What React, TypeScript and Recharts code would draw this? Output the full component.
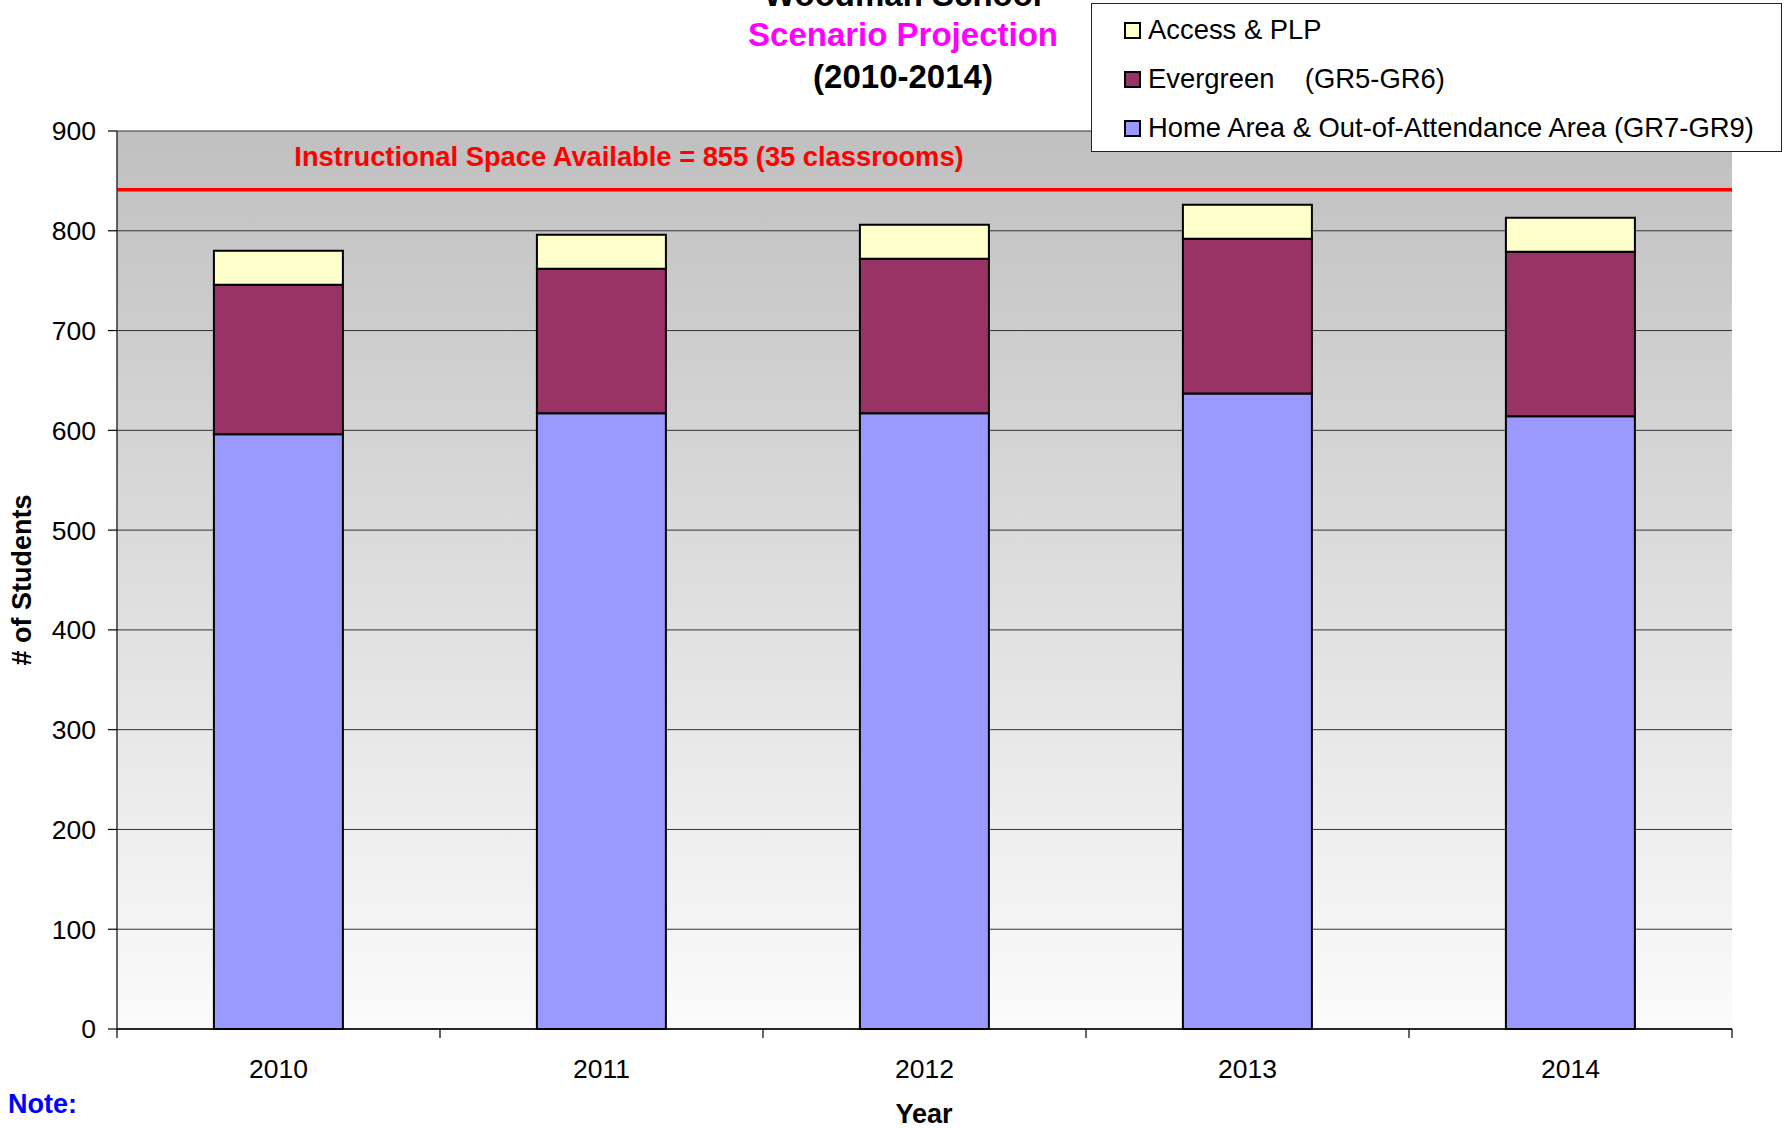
import React from 'react';
import { BarChart, Bar, XAxis, YAxis, CartesianGrid, ReferenceLine } from 'recharts';

const years = ['2010', '2011', '2012', '2013', '2014'];
const homeArea = [596, 617, 617, 637, 614];
const evergreen = [150, 145, 155, 155, 165];
const access = [34, 34, 34, 34, 34];
const yTicks = [0, 100, 200, 300, 400, 500, 600, 700, 800, 900];
const capacityLineValue = 841;
const capacityText = 'Instructional Space Available = 855 (35 classrooms)';

const seriesDefs = [
  { key: 'access', name: 'Access & PLP', color: '#ffffcc' },
  { key: 'evergreen', name: 'Evergreen    (GR5-GR6)', color: '#993366' },
  { key: 'home', name: 'Home Area & Out-of-Attendance Area (GR7-GR9)', color: '#9999ff' },
];

const data = years.map((y, i) => ({ year: y, home: homeArea[i], evergreen: evergreen[i], access: access[i] }));

const FONT = '"Liberation Sans", Arial, sans-serif';

const XTick = (props: any) => {
  const { x, y, payload, index, visibleTicksCount, width } = props;
  const half = payload && payload.offset ? payload.offset : width / visibleTicksCount / 2;
  const axisY = y - 30;
  return (
    <g>
      <line x1={x - half} x2={x - half} y1={axisY} y2={axisY + 9} stroke="#000" strokeWidth={1.2} />
      {index === visibleTicksCount - 1 && (
        <line x1={x + half} x2={x + half} y1={axisY} y2={axisY + 9} stroke="#000" strokeWidth={1.2} />
      )}
      <text x={x} y={y} dy="0.71em" textAnchor="middle" fill="#000" fontSize={26.5} fontFamily={FONT}>
        {payload.value}
      </text>
    </g>
  );
};

export default function App() {
  return (
    <div style={{ position: 'absolute', left: 0, top: 0, width: 1788, height: 1128, background: '#fff', fontFamily: FONT }}>
      <BarChart
        width={1788}
        height={1128}
        data={data}
        margin={{ top: 131, right: 56, bottom: 0, left: 0 }}
        barCategoryGap="30%"
      >
        <defs>
          <linearGradient id="plotBg" x1="0" y1="0" x2="0" y2="1">
            <stop offset="0%" stopColor="#c0c0c0" />
            <stop offset="100%" stopColor="#fbfbfb" />
          </linearGradient>
        </defs>
        <CartesianGrid vertical={false} stroke="#333" strokeWidth={1} fill="url(#plotBg)" fillOpacity={1} />
        <XAxis
          dataKey="year"
          height={99}
          tickSize={9}
          tickMargin={21}
          tickLine={false}
          axisLine={{ stroke: '#000', strokeWidth: 1.5 }}
          tick={<XTick />}
          interval={0}
        />
        <XAxis xAxisId="top" orientation="top" dataKey="year" height={0} tick={false} tickLine={false} axisLine={{ stroke: '#888', strokeWidth: 2.5 }} />
        <YAxis
          width={117}
          domain={[0, 900]}
          ticks={yTicks}
          tickSize={9}
          tickMargin={12}
          tick={{ fill: '#000', fontSize: 26.5, fontFamily: FONT }}
          tickLine={{ stroke: '#000', strokeWidth: 1.2 }}
          axisLine={{ stroke: '#333', strokeWidth: 1.5 }}
          interval={0}
        />
        <YAxis yAxisId="right" orientation="right" width={0} domain={[0, 900]} tick={false} tickLine={false} axisLine={{ stroke: '#888', strokeWidth: 2 }} />
        <Bar dataKey="home" stackId="s" fill="#9999ff" stroke="#000" strokeWidth={2} isAnimationActive={false} />
        <Bar dataKey="evergreen" stackId="s" fill="#993366" stroke="#000" strokeWidth={2} isAnimationActive={false} />
        <Bar dataKey="access" stackId="s" fill="#ffffcc" stroke="#000" strokeWidth={2} isAnimationActive={false} />
        <ReferenceLine y={capacityLineValue} stroke="#ff0000" strokeWidth={3.5} />
      </BarChart>

      <svg
        width={1788}
        height={1128}
        style={{ position: 'absolute', left: 0, top: 0, pointerEvents: 'none' }}
      >
        <g fontFamily={FONT} fontWeight="bold" textAnchor="middle">
          <text x={903} y={6} fontSize={33} fill="#000">Woodman School</text>
          <text x={903} y={46} fontSize={33} fill="#ff00ff">Scenario Projection</text>
          <text x={903} y={88} fontSize={33} fill="#000">(2010-2014)</text>
          <text x={629} y={166} fontSize={27.3} fill="#ff0000">{capacityText}</text>
          <text x={924} y={1123} fontSize={27} fill="#000">Year</text>
          <text x={31} y={580} fontSize={27} fill="#000" transform="rotate(-90 31 580)">
            # of Students
          </text>
          <text x={8} y={1113} fontSize={27} fill="#0000ff" textAnchor="start">Note:</text>
        </g>
      </svg>

      <div
        style={{
          position: 'absolute',
          left: 1091,
          top: 3,
          width: 689,
          height: 147,
          border: '1px solid #222',
          background: '#fff',
          boxSizing: 'content-box',
        }}
      >
        {seriesDefs.map((s, i) => (
          <div
            key={s.key}
            style={{
              position: 'absolute',
              left: 32,
              top: 10 + i * 49,
              height: 32,
              display: 'flex',
              alignItems: 'center',
              whiteSpace: 'pre',
              fontSize: 27.4,
              lineHeight: '32px',
              color: '#000',
            }}
          >
            <span
              style={{
                display: 'inline-block',
                width: 13,
                height: 13,
                border: '2px solid #000',
                background: s.color,
                marginRight: 7,
              }}
            />
            <span>{s.name}</span>
          </div>
        ))}
      </div>
    </div>
  );
}
